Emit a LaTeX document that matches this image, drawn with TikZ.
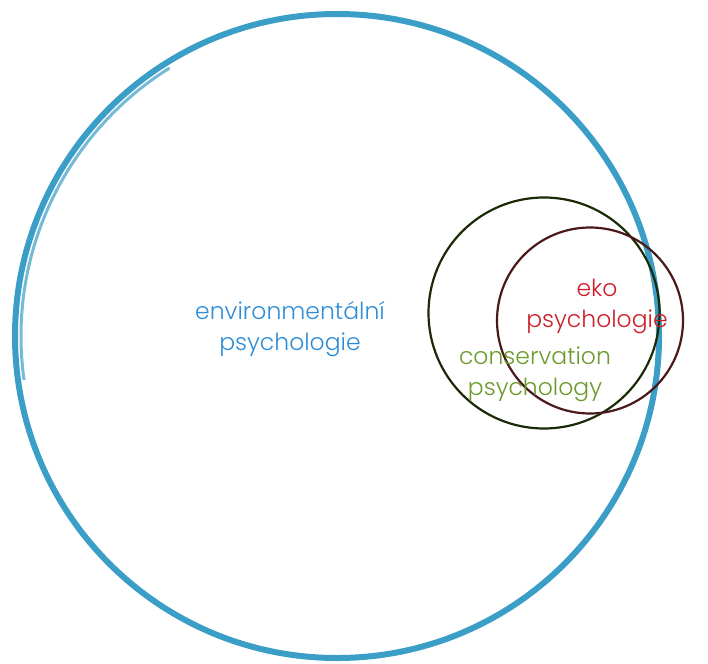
\documentclass[tikz,border=0pt]{standalone}
\usepackage{fontspec}
\setmainfont{Poppins}[UprightFont=* Light]
\definecolor{ringblue}{HTML}{3A9EC6}
\definecolor{textblue}{HTML}{2E8DD6}
\definecolor{textred}{HTML}{CC1F2A}
\definecolor{textgreen}{HTML}{6A9B2C}
\definecolor{ringred}{HTML}{4A1A1A}
\definecolor{ringgreen}{HTML}{1A2A05}
\tikzset{
  lbl/.style={align=center, font=\fontsize{23.5}{31}\selectfont, inner sep=0pt},
}
\begin{document}
\begin{tikzpicture}[x=1pt,y=-1pt]
\useasboundingbox (0,0) rectangle (708,663);
% big circle
\node[circle, draw=ringblue, line width=6pt, minimum size=644pt, inner sep=0pt] (env) at (337,336) {};
\draw[ringblue, line width=3pt, opacity=0.7] (337,336) ++(172:316) arc[start angle=172, end angle=238, radius=316];
% green circle
\node[circle, draw=ringgreen, line width=2.2pt, minimum size=231pt, inner sep=0pt] (cons) at (544,313) {};
% red circle
\node[circle, draw=ringred, line width=2.2pt, minimum size=186pt, inner sep=0pt] (eko) at (590,320.5) {};
% labels
\node[lbl, text=textblue] (envlbl) at (290,329) {environmentální\\psychologie};
\node[lbl, text=textred] (ekolbl) at (597,306) {eko\\psychologie};
\node[lbl, text=textgreen] (conslbl) at (535,374) {conservation\\psychology};
\end{tikzpicture}
\end{document}
